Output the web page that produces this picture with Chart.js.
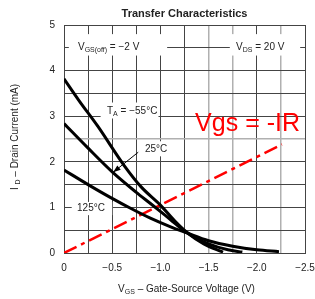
<!DOCTYPE html>
<html>
<head>
<meta charset="utf-8">
<script src="https://cdn.jsdelivr.net/npm/chart.js@4/dist/chart.umd.min.js"></script>
<style>
  html, body { margin: 0; padding: 0; background: #fff; }
  #wrap { width: 315px; height: 299px; position: relative; }
</style>
</head>
<body>
<div id="wrap"><canvas id="chart"></canvas></div>
<script>
// ---------- données ----------
// VGS en volts (négatif), ID en mA
const vgsCold = [0, -0.15, -0.35, -0.63, -0.8, -1.0, -1.15, -1.27, -1.45, -1.65];
const idCold  = [3.82, 3.36, 2.78, 1.9, 1.45, 1.05, 0.7, 0.46, 0.2, 0.02];

const vgsRoom = [0, -0.25, -0.5, -0.75, -0.9, -1.1, -1.27, -1.5, -1.7, -1.85];
const idRoom  = [2.84, 2.3, 1.78, 1.33, 1.08, 0.74, 0.45, 0.2, 0.07, 0.02];

const vgsHot = [0, -0.25, -0.48, -0.7, -0.89, -1.1, -1.27, -1.5, -1.75, -2.0, -2.23];
const idHot  = [1.82, 1.5, 1.22, 0.97, 0.77, 0.58, 0.445, 0.27, 0.15, 0.07, 0.03];

// droite de charge Vgs = -IR
const vgsLoad = [0, -2.26];
const idLoad  = [0, 2.38];

const xTickLabels = ["0", "−0.5", "−1.0", "−1.5", "−2.0", "−2.5"];
const yTickLabels = ["0", "1", "2", "3", "4", "5"];

const FONT = "'Liberation Sans', Arial, sans-serif";
const TXT = "#222";

function pts(xs, ys) {
  return xs.map((x, i) => ({ x: x, y: ys[i] }));
}

// ---------- annotations (texte avec indices) ----------
function drawSub(ctx, parts, x, y, size) {
  // parts: [[texte, estIndice], ...]
  let cx = x;
  for (const [t, sub] of parts) {
    const s = sub ? Math.round(size * 0.7) : size;
    ctx.font = s + "px " + FONT;
    ctx.fillText(t, cx, sub ? y + size * 0.3 : y);
    cx += ctx.measureText(t).width;
  }
  return cx - x;
}

function measureSub(ctx, parts, size) {
  let w = 0;
  for (const [t, sub] of parts) {
    const s = sub ? Math.round(size * 0.7) : size;
    ctx.font = s + "px " + FONT;
    w += ctx.measureText(t).width;
  }
  return w;
}

const annotPlugin = {
  id: "annot",
  beforeDatasetsDraw(chart) {
    const { ctx, scales: { x, y } } = chart;
    ctx.save();
    ctx.fillStyle = "#fff";
    // fonds blancs derrière les étiquettes
    const boxes = [
      [-0.05, 4.8, -1.07, 4.33],
      [-1.72, 4.8, -2.45, 4.33],
      [-0.38, 3.3, -0.98, 2.95],
      [-0.8, 2.45, -1.07, 2.12],
      [-0.08, 1.12, -0.5, 0.83]
    ];
    for (const [x0, y0, x1, y1] of boxes) {
      const px0 = x.getPixelForValue(x0), px1 = x.getPixelForValue(x1);
      const py0 = y.getPixelForValue(y0), py1 = y.getPixelForValue(y1);
      ctx.fillRect(px0, py0, px1 - px0, py1 - py0);
    }
    ctx.restore();
  },
  afterDraw(chart) {
    const { ctx, scales: { x, y }, chartArea } = chart;
    ctx.save();
    ctx.fillStyle = TXT;
    ctx.textBaseline = "middle";
    ctx.textAlign = "left";

    // titre
    ctx.font = "bold 11px " + FONT;
    ctx.textAlign = "center";
    ctx.fillText("Transfer Characteristics", (chartArea.left + chartArea.right) / 2, 14);
    ctx.textAlign = "left";

    drawSub(ctx, [["V", false], ["GS(off)", true], [" = −2 V", false]],
      x.getPixelForValue(-0.145), y.getPixelForValue(4.52), 10);
    drawSub(ctx, [["V", false], ["DS", true], [" = 20 V", false]],
      x.getPixelForValue(-1.785), y.getPixelForValue(4.52), 10);
    drawSub(ctx, [["T", false], ["A", true], [" = −55°C", false]],
      x.getPixelForValue(-0.446), y.getPixelForValue(3.11), 10);
    drawSub(ctx, [["25°C", false]],
      x.getPixelForValue(-0.84), y.getPixelForValue(2.28), 10);
    drawSub(ctx, [["125°C", false]],
      x.getPixelForValue(-0.135), y.getPixelForValue(0.99), 10);

    // flèche 25°C
    const ax0 = x.getPixelForValue(-0.77), ay0 = y.getPixelForValue(2.21);
    const ax1 = x.getPixelForValue(-0.51), ay1 = y.getPixelForValue(1.77);
    ctx.strokeStyle = "#000";
    ctx.lineWidth = 1;
    ctx.beginPath();
    ctx.moveTo(ax0, ay0);
    ctx.lineTo(ax1, ay1);
    ctx.stroke();
    const ang = Math.atan2(ay1 - ay0, ax1 - ax0);
    ctx.fillStyle = "#000";
    ctx.beginPath();
    ctx.moveTo(ax1, ay1);
    ctx.lineTo(ax1 - 8 * Math.cos(ang - 0.35), ay1 - 8 * Math.sin(ang - 0.35));
    ctx.lineTo(ax1 - 8 * Math.cos(ang + 0.35), ay1 - 8 * Math.sin(ang + 0.35));
    ctx.closePath();
    ctx.fill();

    // Vgs = -IR
    ctx.fillStyle = "#ff0000";
    ctx.font = "25px " + FONT;
    ctx.fillText("Vgs = -IR", x.getPixelForValue(-1.36), y.getPixelForValue(2.83));

    // titres des axes
    ctx.fillStyle = TXT;
    const xt = [["V", false], ["GS", true], [" – Gate-Source Voltage (V)", false]];
    const wx = measureSub(ctx, xt, 10);
    drawSub(ctx, xt, (chartArea.left + chartArea.right) / 2 + 2 - wx / 2, 289, 10);

    const yt = [["I ", false], ["D", true], [" – Drain Current (mA)", false]];
    const wy = measureSub(ctx, yt, 10);
    ctx.translate(15, 137);
    ctx.rotate(-Math.PI / 2);
    drawSub(ctx, yt, -wy / 2, 0, 10);
    ctx.restore();
  }
};

// ---------- graphique ----------
const darkGrid = "#444";
const lightGrid = "#b0b0b0";

new Chart(document.getElementById("chart"), {
  type: "line",
  data: {
    datasets: [
      { label: "−55°C", data: pts(vgsCold, idCold) },
      { label: "25°C", data: pts(vgsRoom, idRoom) },
      { label: "125°C", data: pts(vgsHot, idHot) },
      {
        label: "Vgs = -IR", data: pts(vgsLoad, idLoad),
        borderColor: "#ff0000", borderWidth: 2.5, borderDash: [14, 5, 4, 5],
        cubicInterpolationMode: "default", tension: 0
      }
    ]
  },
  options: {
    responsive: true,
    maintainAspectRatio: false,
    animation: false,
    layout: { padding: { top: 25, right: 10, left: 0, bottom: 0 } },
    elements: {
      point: { radius: 0 },
      line: { borderColor: "#000", borderWidth: 3, cubicInterpolationMode: "monotone", fill: false }
    },
    plugins: { legend: { display: false }, tooltip: { enabled: false } },
    scales: {
      x: {
        type: "linear",
        min: -2.5, max: 0, reverse: true,
        afterFit: (s) => { s.height = 46; s.paddingRight = 0; s.paddingLeft = 0; },
        border: { display: true, color: darkGrid, width: 1 },
        grid: {
          drawTicks: false,
          lineWidth: (c) => ([-1.5, -1.75, -2.25].some(v => Math.abs(c.tick.value - v) < 1e-6) ? 1.5 : 1),
          color: (c) => ([-1.5, -1.75, -2.25].some(v => Math.abs(c.tick.value - v) < 1e-6) ? lightGrid : darkGrid)
        },
        ticks: {
          stepSize: 0.25, autoSkip: false, maxRotation: 0, padding: 9,
          color: TXT, font: { family: FONT, size: 10 },
          callback: (v) => {
            const k = Math.round(-v / 0.5 * 1000) / 1000;
            return Number.isInteger(k) ? xTickLabels[k] : "";
          }
        }
      },
      y: {
        type: "linear",
        min: 0, max: 5,
        afterFit: (s) => { s.width = 64; },
        border: { display: true, color: darkGrid, width: 1 },
        grid: {
          drawTicks: false,
          lineWidth: (c) => (Math.abs(c.tick.value - 2.5) < 1e-6 ? 1.5 : 1),
          color: (c) => (Math.abs(c.tick.value - 2.5) < 1e-6 ? lightGrid : darkGrid)
        },
        ticks: {
          stepSize: 0.5, autoSkip: false, padding: 9,
          color: TXT, font: { family: FONT, size: 10 },
          callback: (v) => (Number.isInteger(v) ? yTickLabels[v] : "")
        }
      }
    }
  },
  plugins: [annotPlugin]
});
</script>
</body>
</html>
